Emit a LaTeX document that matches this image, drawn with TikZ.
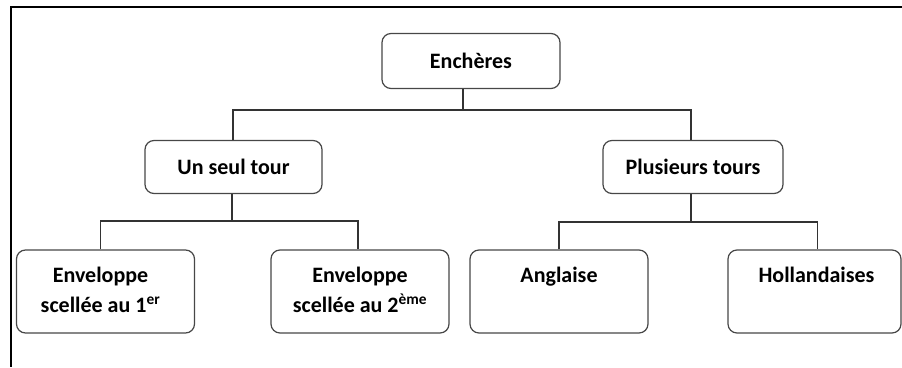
\documentclass[tikz,border=0pt]{standalone}
\usepackage{fontspec}
\setmainfont{Carlito}
\tikzset{
	frame/.style={line width=1.8pt, black},
	box/.style={draw=black!72, line width=1.2pt, rounded corners=9pt, inner sep=0pt,
		font=\fontsize{22}{29.5}\selectfont\bfseries},
	midbox/.style={box, minimum width=177pt, minimum height=53pt},
	leafbox/.style={box, minimum width=178pt, minimum height=83pt},
	leaftext/.style={anchor=north, inner sep=0pt, align=center,
		font=\fontsize{22}{29.5}\selectfont\bfseries},
	link/.style={draw=black!80, line width=1.1pt}
}
\begin{document}
\begin{tikzpicture}[x=1pt,y=1pt]
	\useasboundingbox (0,0) rectangle (902,367);
	\draw[frame] (902,360) -- (11,360) -- (11,0);
	\node[box, minimum width=178pt, minimum height=55pt] (ench) at (471,306) {Enchères};
	\node[midbox] (un) at (233.5,200) {Un seul tour};
	\node[midbox, minimum width=180pt] (plus) at (693,200) {Plusieurs tours};
	\node[leafbox] (env1) at (105.5,75.5) {};
	\node[leafbox] (env2) at (360,75.5) {};
	\node[leafbox] (angl) at (559,75.5) {};
	\node[leafbox, minimum width=173pt] (holl) at (814.5,75.5) {};
	\node[leaftext] (env1t) at ([xshift=-5pt,yshift=-17.5pt]env1.north) {Enveloppe\\scellée au 1\textsuperscript{er}};
	\node[leaftext] (env2t) at ([yshift=-17.5pt]env2.north) {Enveloppe\\scellée au 2\textsuperscript{ème}};
	\node[leaftext] (anglt) at ([yshift=-17.5pt]angl.north) {Anglaise};
	\node[leaftext] (hollt) at ([xshift=2pt,yshift=-17.5pt]holl.north) {Hollandaises};
	\coordinate (j0) at (463,257);
	\coordinate (j1) at (232,146);
	\coordinate (j2) at (691,145);
	\draw[link] (ench.south -| j0) -- (j0);
	\draw[link] (un.north -| 233,0) |- (j0) -| (plus.north -| j2);
	\draw[link] (un.south -| j1) -- (j1);
	\draw[link] ([xshift=-5pt]env1.north) |- (j1) -| ([xshift=-2pt]env2.north);
	\draw[link] (plus.south -| j2) -- (j2);
	\draw[link] (angl.north) |- (j2) -| ([xshift=3pt]holl.north);
\end{tikzpicture}
\end{document}
